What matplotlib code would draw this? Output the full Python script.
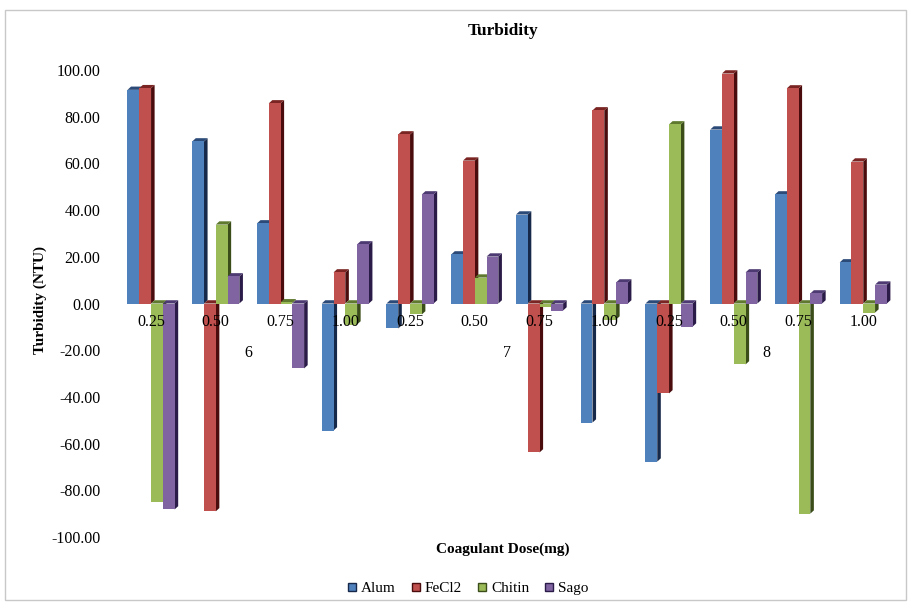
import numpy as np
import matplotlib
matplotlib.use("Agg")
import matplotlib.pyplot as plt
from matplotlib.patches import Polygon, Rectangle
from matplotlib.lines import Line2D

plt.rcParams["font.family"] = ["Liberation Serif", "DejaVu Serif"]

# Dosis (mg) por pH
dosis = ["0.25", "0.50", "0.75", "1.00"]
ph = ["6", "7", "8"]
series = ["Alum", "FeCl2", "Chitin", "Sago"]

alum = [91.5, 69.4, 34.3, -54.4, -10.7, 21.0, 38.1, -51.0, -67.7, 74.5, 46.7, 17.6]
fecl2 = [92.2, -89.0, 85.7, 13.3, 72.4, 61.2, -63.8, 82.7, -38.5, 98.5, 92.1, 60.8]
chitin = [-84.8, 33.8, 0.5, -9.0, -4.7, 11.1, -1.5, -6.9, 76.7, -26.1, -90.0, -3.9]
sago = [-88.2, 11.6, -27.8, 25.3, 46.7, 20.1, -3.0, 9.0, -9.9, 13.3, 4.3, 8.1]

valores = [alum, fecl2, chitin, sago]
colores = ["#4F81BD", "#C0504D", "#9BBB59", "#8064A2"]
lados = ["#17294A", "#4A0C0C", "#3B4E1A", "#2A1B48"]
techos = ["#2C4A78", "#7A2523", "#5F7A2E", "#4D3A72"]

fig = plt.figure(figsize=(9.09, 6.02), dpi=100)
ax = fig.add_axes([110 / 909, 65 / 602, 785 / 909, 467 / 602])

n = len(alum)
x = np.arange(n)
ancho = 0.182
dx = 0.055   # profundidad en x (unidades de datos)
dy = 1.4     # profundidad en y

for s, vals in enumerate(valores):
    for i, v in enumerate(vals):
        x0 = x[i] + (s - 2) * ancho
        x1 = x0 + ancho
        lo, hi = min(0, v), max(0, v)
        z = 2 + s * 0.1
        # cara lateral
        ax.add_patch(Polygon([(x1, lo), (x1 + dx, lo + dy), (x1 + dx, hi + dy), (x1, hi)],
                             closed=True, facecolor=lados[s], edgecolor="none", zorder=z))
        # cara superior
        ax.add_patch(Polygon([(x0, hi), (x0 + dx, hi + dy), (x1 + dx, hi + dy), (x1, hi)],
                             closed=True, facecolor=techos[s], edgecolor="none", zorder=z))
        # cara frontal
        ax.bar(x0, v, width=ancho, align="edge", color=colores[s],
               edgecolor="none", zorder=z + 0.05)

ax.set_xlim(-0.634, 11.49)
ax.set_ylim(-100, 100)
ax.set_xticks([])
ax.set_yticks(np.arange(-100, 101, 20))
ax.set_yticklabels([f"{t:.2f}" for t in np.arange(-100, 101, 20)], fontsize=11.5)
ax.tick_params(axis="y", length=0, pad=7)
for sp in ax.spines.values():
    sp.set_visible(False)

# etiquetas de dosis sobre la linea cero y pH debajo
for i in range(n):
    ax.text(x[i], -8, dosis[i % 4], ha="center", va="center", fontsize=11.5, zorder=10)
for k, p in enumerate(ph):
    ax.text(x[4 * k] + 1.5, -21, p, ha="center", va="center", fontsize=11.5, zorder=10)

fig.text(503 / 909, 1 - 31 / 602, "Turbidity", ha="center", va="center",
         fontsize=12.5, fontweight="bold")
fig.text(40 / 909, 1 - 300 / 602, "Turbidity (NTU)", ha="center", va="center",
         rotation=90, fontsize=11, fontweight="bold")
fig.text(503 / 909, 1 - 549 / 602, "Coagulant Dose(mg)", ha="center", va="center",
         fontsize=11, fontweight="bold")

manejadores = [Line2D([], [], marker="s", linestyle="none", markersize=6,
                      markerfacecolor=c, markeredgecolor=l) for c, l in zip(colores, lados)]
fig.legend(manejadores, series, loc="center", bbox_to_anchor=(468 / 909, 1 - 588 / 602),
           ncol=4, frameon=False, fontsize=11, handlelength=0.6, handletextpad=0.3,
           columnspacing=1.0)

# borde del grafico
fig.patches.append(Rectangle((5 / 909, 2 / 602), 901 / 909, 590 / 602, transform=fig.transFigure,
                             fill=False, edgecolor="#C8C8C8", linewidth=1))

fig.savefig("out.png", dpi=100)
